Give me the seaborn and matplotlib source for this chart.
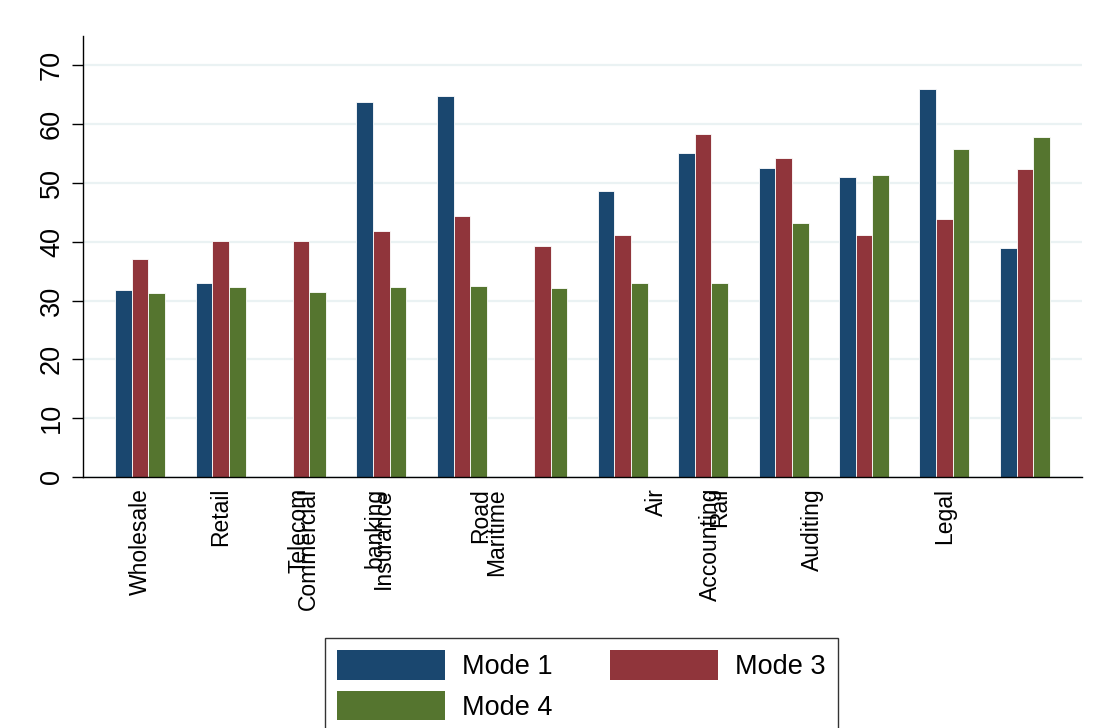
import numpy as np
import pandas as pd
import matplotlib
matplotlib.use('Agg')
import matplotlib.pyplot as plt
import seaborn as sns

# values (NaN = no bar drawn)
GROUPS = [str(i) for i in range(1, 13)]
MODE_1 = [31.8, 32.9, np.nan, 63.7, 64.8, np.nan, 48.7, 55.1, 52.6, 51.1, 66.0, 39.0]
MODE_3 = [37.05, 40.1, 40.2, 41.9, 44.4, 39.2, 41.1, 58.4, 54.3, 41.1, 43.8, 52.45]
MODE_4 = [31.25, 32.3, 31.5, 32.3, 32.45, 32.1, 32.9, 32.9, 43.2, 51.3, 55.85, 57.85]
SERIES = ['Mode 1', 'Mode 3', 'Mode 4']
COLORS = ['#1a476f', '#90353b', '#55752f']

# category labels as they sit under the axis (overlapping, off-centre)
TICK_LABELS = ['Wholesale', 'Retail', 'Telecom', 'Commercial', 'banking',
               'Insurance', 'Road', 'Maritime', 'Air', 'Accounting', 'Rail',
               'Auditing', 'Legal']
TICK_POS = [0.0, 1.0, 1.98, 2.09, 2.92, 3.02, 4.23, 4.43, 6.42, 7.09, 7.21,
            8.36, 10.0]
Y_TICKS = [0, 10, 20, 30, 40, 50, 60, 70]


def main():
    df = pd.DataFrame({'group': GROUPS, 'Mode 1': MODE_1,
                       'Mode 3': MODE_3, 'Mode 4': MODE_4})
    long = df.melt(id_vars='group', var_name='mode', value_name='value')

    sns.set_theme(style='white')
    plt.rcParams['font.family'] = ['Liberation Sans', 'DejaVu Sans']
    plt.rcParams['text.color'] = 'black'
    plt.rcParams['xtick.color'] = 'black'
    plt.rcParams['ytick.color'] = 'black'

    fig = plt.figure(figsize=(10.94, 7.28), dpi=100)
    ax = fig.add_axes([0.0759, 0.345, 0.9131, 0.6055])

    sns.barplot(data=long, x='group', y='value', hue='mode',
                order=GROUPS, hue_order=SERIES, palette=COLORS,
                width=0.62, gap=0, edgecolor='white', linewidth=0.6,
                saturation=1, ax=ax)

    ax.set_xlim(-0.71, 11.71)
    ax.set_ylim(0, 75)
    ax.set_yticks(Y_TICKS)
    ax.set_yticklabels([str(t) for t in Y_TICKS], rotation=90, va='center',
                       fontsize=19.5)
    ax.set_xticks(TICK_POS)
    ax.set_xticklabels(TICK_LABELS, rotation=90, fontsize=16.5)
    ax.tick_params(axis='x', length=0, pad=8)
    ax.tick_params(axis='y', length=8, width=1, pad=5, left=True)
    ax.set_xlabel('')
    ax.set_ylabel('')

    ax.yaxis.grid(True, color='#eaf2f3', linewidth=1.6)
    ax.set_axisbelow(True)
    for side in ['top', 'right']:
        ax.spines[side].set_visible(False)
    for side in ['left', 'bottom']:
        ax.spines[side].set_color('black')
        ax.spines[side].set_linewidth(1.0)

    handles, labels = ax.get_legend_handles_labels()
    ax.legend_.remove()
    # matplotlib fills legend columns first; reorder so rows read 1, 3 / 4
    order = [0, 2, 1]
    leg = fig.legend([handles[i] for i in order], [labels[i] for i in order],
                     loc='upper center', bbox_to_anchor=(0.5315, 0.1236),
                     ncol=2, fontsize=19.5, frameon=True, fancybox=False,
                     edgecolor='black', handlelength=4.0, handleheight=1.3,
                     handletextpad=0.63, columnspacing=2.1, labelspacing=0.4,
                     borderpad=0.45, borderaxespad=0)
    leg.get_frame().set_linewidth(1.0)
    for h in leg.legend_handles:
        h.set_edgecolor('none')

    fig.savefig('out.png', dpi=100)
    plt.close(fig)


if __name__ == '__main__':
    main()
